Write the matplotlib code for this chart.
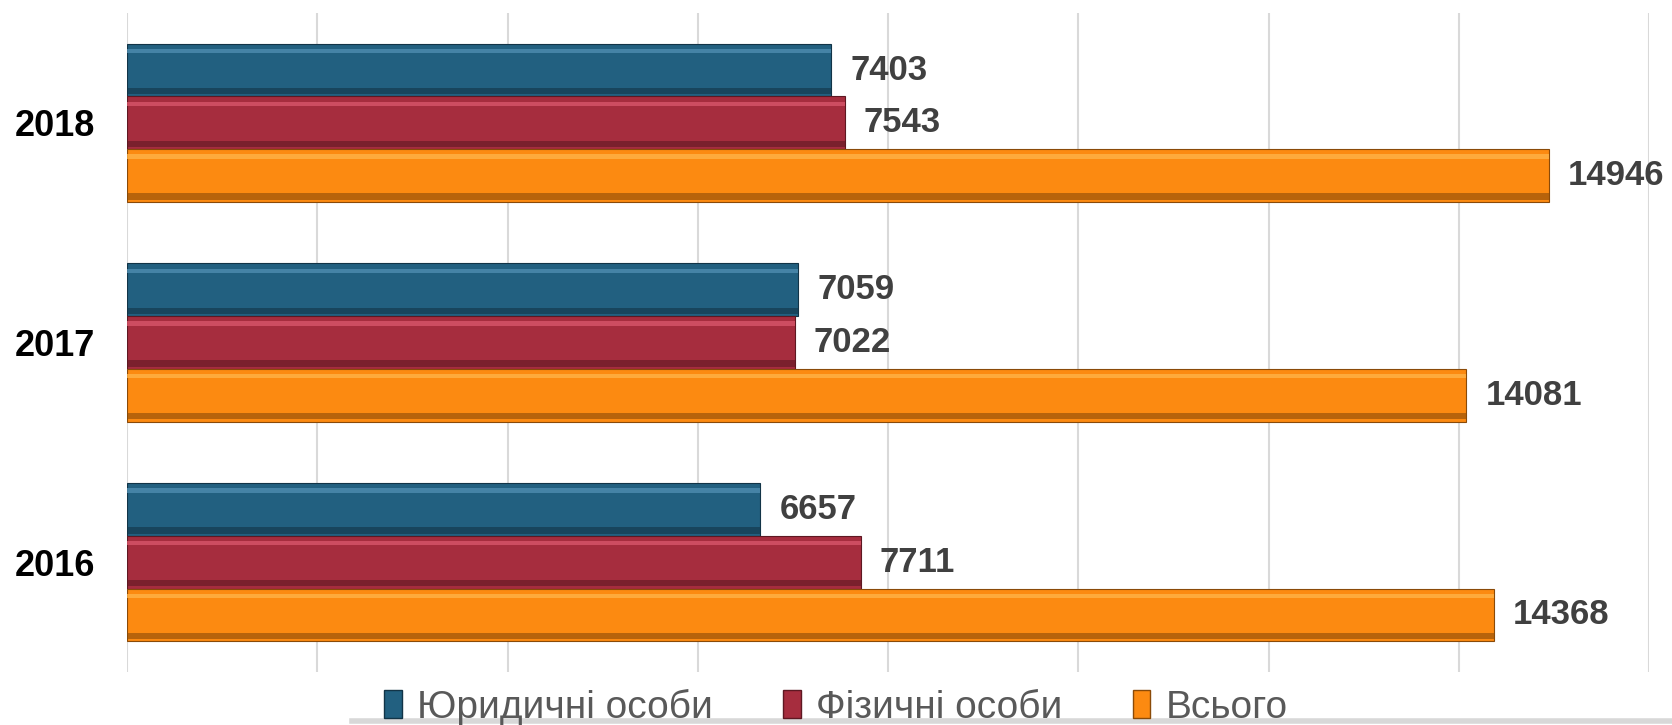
import numpy as np
import matplotlib.pyplot as plt
from matplotlib.patches import Rectangle

# Data
years = ['2016', '2017', '2018']
legal = [6657, 7059, 7403]
physical = [7711, 7022, 7543]
total = [14368, 14081, 14946]
series_names = ['Юридичні особи', 'Фізичні особи', 'Всього']

colors = ['#226080', '#a62d3e', '#fc8a11']
light = ['#4f8db0', '#d8566a', '#ffb347']
dark = ['#123447', '#5e1822', '#8a4a08']

fig = plt.figure(figsize=(16.72, 7.25), dpi=100)
ax = fig.add_axes([127 / 1672, 1 - 672 / 725, (1649 - 127) / 1672, (672 - 13) / 725])

y = np.arange(len(years))
h = 0.24
offsets = [h, 0, -h]
all_series = [legal, physical, total]

for vals, off, c, lc, dc in zip(all_series, offsets, colors, light, dark):
    pos = y + off
    ax.barh(pos, vals, height=h, color=c, edgecolor=dc, linewidth=0.8, zorder=3)
    # bevel: light strip on top, dark strip at bottom
    ax.barh(pos + h * 0.36, vals, height=h * 0.08, color=lc, linewidth=0, zorder=4, alpha=0.8)
    ax.barh(pos - h * 0.40, vals, height=h * 0.12, color=dc, linewidth=0, zorder=4, alpha=0.6)
    for p, v in zip(pos, vals):
        ax.text(v + 200, p, str(v), va='center', ha='left', fontsize=25,
                fontweight='bold', color='#404040', family='Liberation Sans', zorder=5)

ax.set_xlim(0, 16000)
ax.set_ylim(-0.5, 2.5)
ax.set_xticks(np.arange(0, 16001, 2000))
ax.set_xticklabels([])
ax.tick_params(axis='x', length=0)
ax.set_yticks(y)
ax.set_yticklabels(years, fontsize=26, fontweight='bold', family='Liberation Sans')
ax.tick_params(axis='y', length=0, pad=23)
ax.grid(axis='x', color='#d9d9d9', linewidth=1.5, zorder=0)
for s in ax.spines.values():
    s.set_visible(False)

handles = [Rectangle((0, 0), 1, 1, facecolor=c, edgecolor=d) for c, d in zip(colors, dark)]
fig.legend(handles, series_names, loc='center', bbox_to_anchor=(0.5, 1 - 707 / 725),
           ncol=3, frameon=False, handlelength=0.45, handleheight=0.75, handletextpad=0.4,
           columnspacing=1.8, prop={'family': ['Liberation Sans Narrow', 'Liberation Sans'], 'size': 28},
           labelcolor='#595959')

# faint shadow line under the legend
fig.add_artist(plt.Line2D([352 / 1672, 1.0], [4 / 725, 4 / 725], transform=fig.transFigure,
                          color='#c8c8c8', linewidth=4, alpha=0.7))

fig.savefig('out.png', dpi=100)
